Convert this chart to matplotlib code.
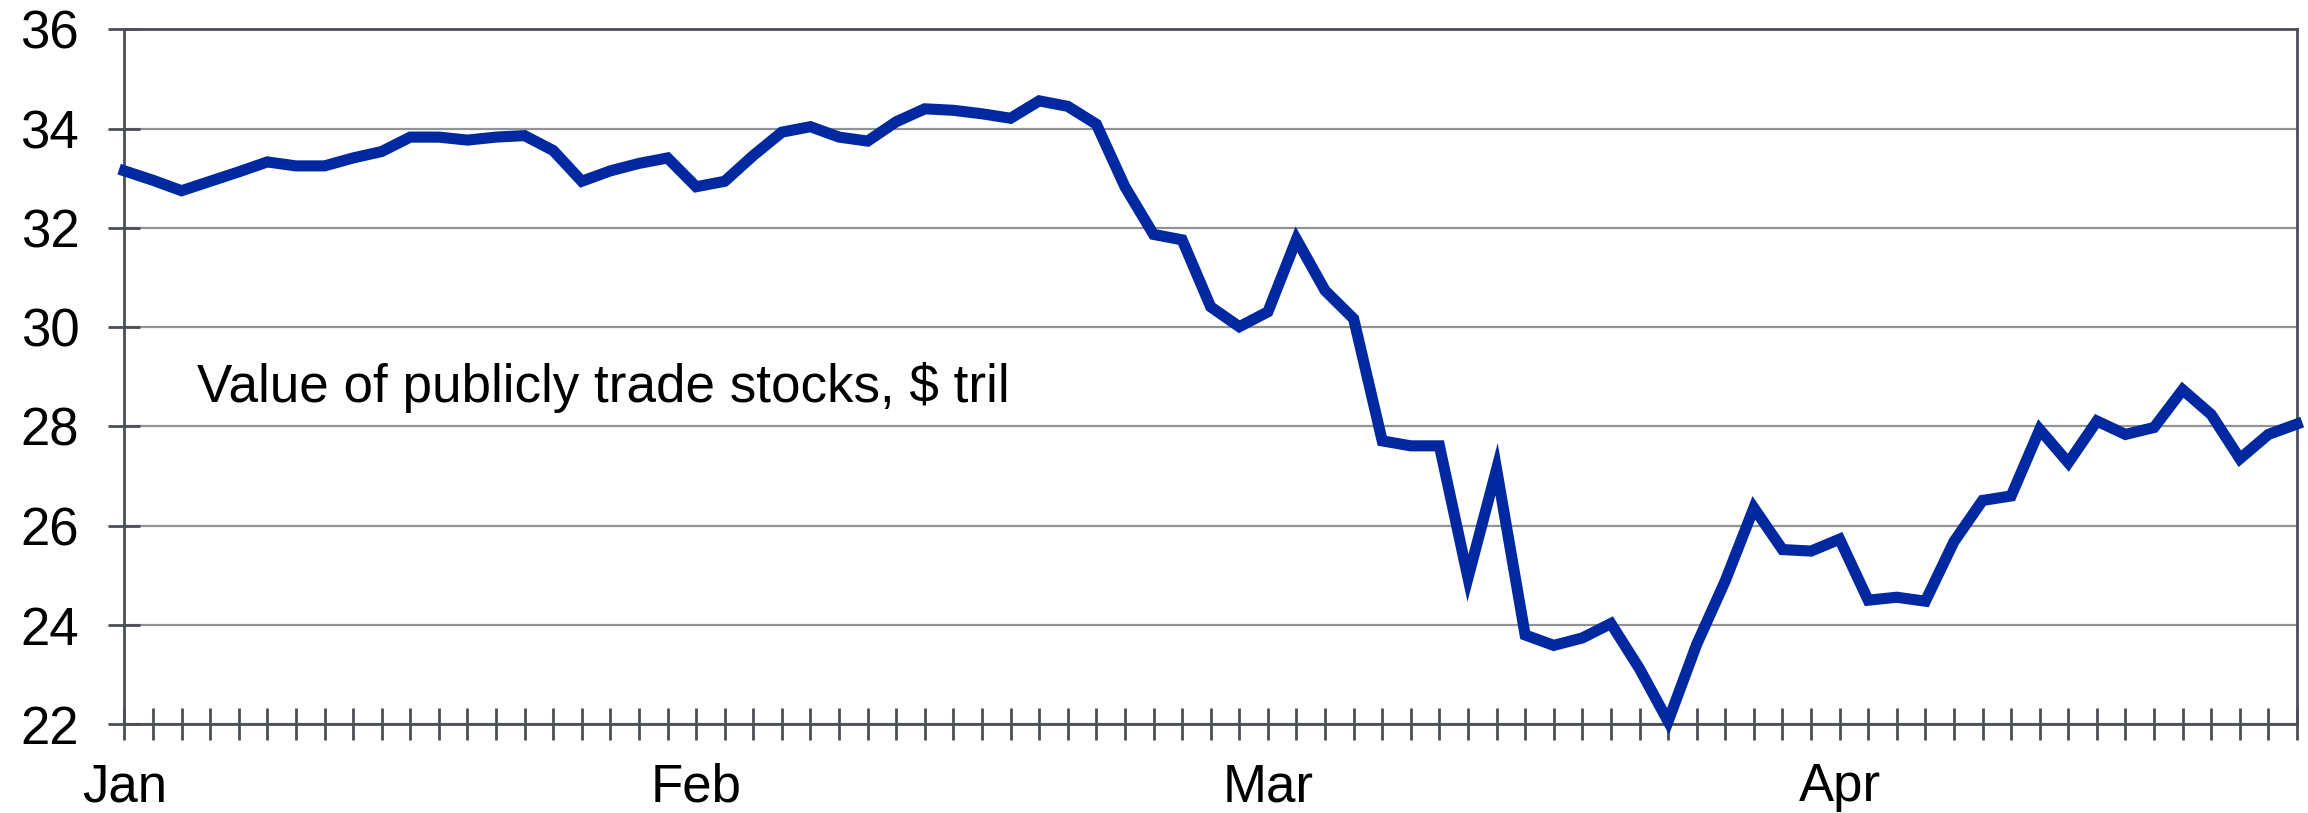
import matplotlib
matplotlib.use("Agg")
import matplotlib.pyplot as plt
from matplotlib.ticker import FixedLocator, NullFormatter

plt.rcParams['font.family'] = ['Liberation Sans', 'DejaVu Sans']

# Trading-day index 0..76, Jan -> end of April
values = [
    33.15, 32.96, 32.75, 32.94, 33.13, 33.33, 33.25, 33.25, 33.41, 33.54,
    33.83, 33.83, 33.77, 33.83, 33.86, 33.56, 32.94, 33.15, 33.30, 33.41,
    32.83, 32.94, 33.46, 33.93, 34.04, 33.83, 33.75, 34.14, 34.40, 34.37,
    34.30, 34.21, 34.56, 34.45, 34.09, 32.83, 31.87, 31.76, 30.41, 30.01,
    30.31, 31.77, 30.74, 30.17, 27.71, 27.61, 27.61, 24.95, 27.14, 23.80,
    23.59, 23.74, 24.03, 23.12, 22.06, 23.61, 24.89, 26.36, 25.52, 25.49,
    25.73, 24.50, 24.56, 24.48, 25.68, 26.51, 26.60, 27.94, 27.27, 28.11,
    27.84, 27.98, 28.74, 28.24, 27.35, 27.84, 28.05,
]
month_labels = ["Jan", "Feb", "Mar", "Apr"]
month_positions = [0, 20, 40, 60]
y_ticks = [22, 24, 26, 28, 30, 32, 34, 36]
label_text = "Value of publicly trade stocks, $ tril"

x = list(range(len(values)))

fig = plt.figure(figsize=(23.08, 8.13), dpi=100)
ax = fig.add_axes([124.4 / 2308, 1 - 724.3 / 813, (2297 - 124.4) / 2308, (724.3 - 29.4) / 813])

ax.plot(x, values, color="#0028a0", linewidth=8, solid_joinstyle="miter", zorder=3, clip_on=False)

ax.set_xlim(0, len(values) - 1)
ax.set_ylim(22, 36)

ax.set_yticks(y_ticks)
ax.set_yticklabels([str(t) for t in y_ticks])
ax.xaxis.set_major_locator(FixedLocator(month_positions))
ax.set_xticklabels(month_labels)
ax.xaxis.set_minor_locator(FixedLocator(x))
ax.xaxis.set_minor_formatter(NullFormatter())

spine_color = "#4b4f55"
for s in ax.spines.values():
    s.set_color(spine_color)
    s.set_linewidth(2.0)

ax.grid(axis="y", color="#909396", linewidth=1.6, zorder=1)
ax.set_axisbelow(True)

ax.tick_params(axis="y", which="major", direction="inout", length=23, width=2.0,
               color=spine_color, labelsize=38, pad=21, labelcolor="black")
ax.tick_params(axis="x", which="both", direction="inout", length=23, width=2.0,
               color=spine_color, labelsize=38, pad=16, labelcolor="black")

ax.text(2.54, 28.49, label_text, fontsize=38.2, color="black", va="baseline", ha="left")

fig.savefig("out.png", dpi=100)
